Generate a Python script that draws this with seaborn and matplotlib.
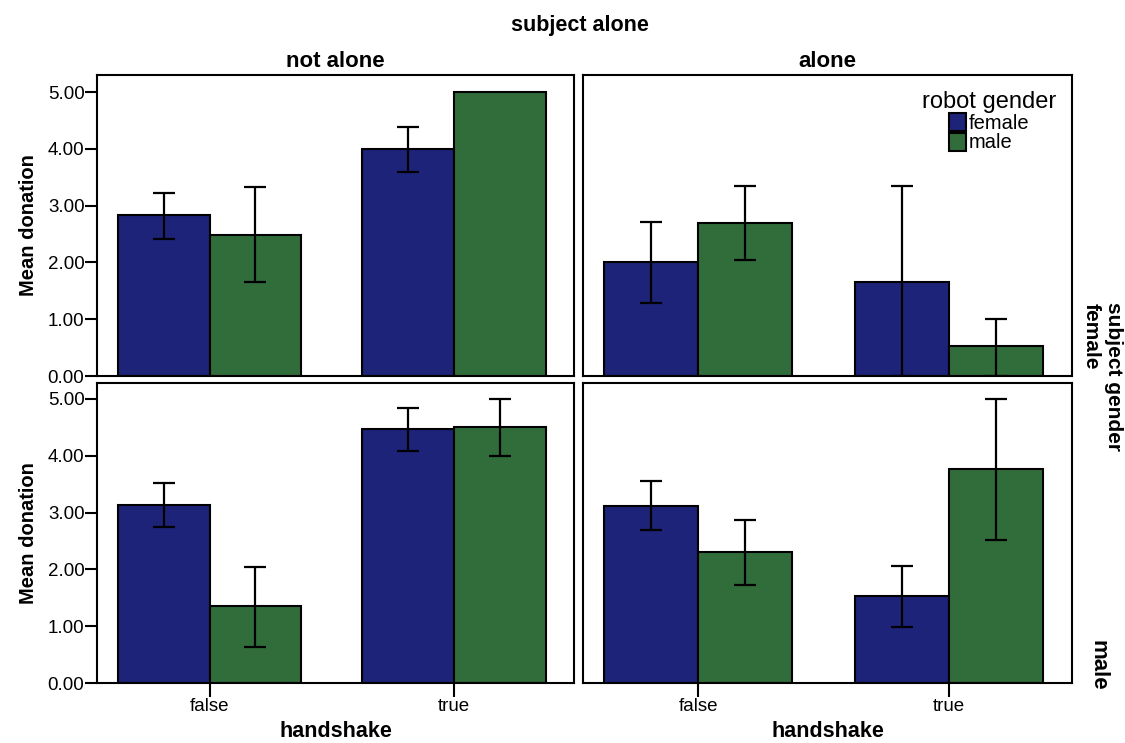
import matplotlib
matplotlib.use("Agg")
import matplotlib.pyplot as plt
import seaborn as sns
import pandas as pd
import numpy as np
from matplotlib.patches import Patch

sns.set_theme(style="white")
plt.rcParams['font.family'] = ['Liberation Sans', 'DejaVu Sans']
plt.rcParams['text.color'] = 'black'
plt.rcParams['axes.labelcolor'] = 'black'
plt.rcParams['xtick.color'] = 'black'
plt.rcParams['ytick.color'] = 'black'

# ---- data ----
subject_gender = ["female"] * 8 + ["male"] * 8
subject_alone = (["not alone"] * 4 + ["alone"] * 4) * 2
handshake = ["false", "false", "true", "true"] * 4
robot_gender = ["female", "male"] * 8
mean_donation = [2.83, 2.49, 3.99, 5.00,
                 2.00, 2.69, 1.66, 0.53,
                 3.13, 1.36, 4.47, 4.51,
                 3.12, 2.31, 1.53, 3.77]
err_low = [2.42, 1.66, 3.60, 5.00,
           1.29, 2.05, 0.00, 0.00,
           2.75, 0.63, 4.08, 4.00,
           2.69, 1.73, 0.99, 2.52]
err_high = [3.23, 3.32, 4.38, 5.00,
            2.72, 3.34, 3.35, 1.01,
            3.52, 2.04, 4.84, 5.00,
            3.56, 2.87, 2.06, 5.00]

rows = ["female", "male"]
cols = ["not alone", "alone"]
x_order = ["false", "true"]
hue_order = ["female", "male"]
palette = {"female": "#1d2378", "male": "#316c3b"}
y_ticks = [0, 1, 2, 3, 4, 5]
y_labels = ["0.00", "1.00", "2.00", "3.00", "4.00", "5.00"]

df = pd.DataFrame({
    "subject gender": subject_gender,
    "subject alone": subject_alone,
    "handshake": handshake,
    "robot gender": robot_gender,
    "mean": mean_donation,
    "lo": err_low,
    "hi": err_high,
})

W, H = 1125, 743
fig = plt.figure(figsize=(W / 100, H / 100), dpi=100)

col_px = [(97, 574), (583, 1072)]
row_px = [(75, 376), (383, 683)]
row_ylim = [5.30, 5.28]

axes = {}
for r, sg in enumerate(rows):
    for c, sa in enumerate(cols):
        x0, x1 = col_px[c]
        y0, y1 = row_px[r]
        ax = fig.add_axes([x0 / W, 1 - y1 / H, (x1 - x0) / W, (y1 - y0) / H])
        axes[(r, c)] = ax
        sub = df[(df["subject gender"] == sg) & (df["subject alone"] == sa)]
        sns.barplot(data=sub, x="handshake", y="mean", hue="robot gender",
                    order=x_order, hue_order=hue_order, palette=palette,
                    width=0.75, errorbar=None, edgecolor="black",
                    linewidth=1.5, saturation=1, legend=False, ax=ax)
        # error bars from bar geometry
        for hi_idx, hg in enumerate(hue_order):
            cont = ax.containers[hi_idx]
            for xi, xv in enumerate(x_order):
                rec = sub[(sub["handshake"] == xv) & (sub["robot gender"] == hg)].iloc[0]
                bar = cont[xi]
                cx = bar.get_x() + bar.get_width() / 2
                if rec["hi"] - rec["lo"] > 0.001:
                    m = rec["mean"]
                    ax.errorbar([cx], [m], yerr=[[m - rec["lo"]], [rec["hi"] - m]],
                                fmt="none", ecolor="black", elinewidth=1.6,
                                capsize=8, capthick=1.6, zorder=5)
        ax.set_xlim(-0.46, 1.49)
        ax.set_ylim(0, row_ylim[r])
        for s in ax.spines.values():
            s.set_visible(True)
            s.set_color("black")
            s.set_linewidth(1.5)
        ax.set_xlabel("")
        ax.set_ylabel("")
        if c == 0:
            ax.set_yticks(y_ticks)
            ax.set_yticklabels(y_labels, fontsize=13.5)
            ax.tick_params(axis="y", which="both", left=True, length=9, width=1.5,
                           color="black", direction="out", pad=0)
            ax.set_ylabel("Mean donation", fontsize=14.5, fontweight="bold")
            ax.yaxis.set_label_coords((38 - x0) / (x1 - x0), 0.5)
        else:
            ax.set_yticks([])
        if r == 1:
            ax.set_xticks([0, 1])
            ax.set_xticklabels(x_order, fontsize=13.5)
            ax.tick_params(axis="x", which="both", bottom=True, length=10, width=1.5,
                           color="black", direction="out", pad=1)
            ax.set_xlabel("handshake", fontsize=15.5, fontweight="bold")
            ax.xaxis.set_label_coords(0.5, -(721 - y1) / (y1 - y0))
        else:
            ax.set_xticks([])
        if r == 0:
            ax.set_title(sa, fontsize=16, fontweight="bold", pad=6)

# legend in top-right panel
handles = [Patch(facecolor=palette[h], edgecolor="black", linewidth=1.5, label=h)
           for h in hue_order]
leg = axes[(0, 1)].legend(handles=handles, title="robot gender", loc="upper right",
                          bbox_to_anchor=(0.997, 0.995), frameon=False,
                          fontsize=14.5, title_fontsize=17,
                          handlelength=0.8, handleheight=1.0,
                          handletextpad=0.15, labelspacing=0.0, borderpad=0.2)

# overall titles / labels
fig.text(580 / W, 1 - 25 / H, "subject alone", ha="center", va="center",
         fontsize=15.5, fontweight="bold")
fig.text(1091 / W, 1 - 336 / H, "female", ha="center", va="center",
         rotation=270, fontsize=15, fontweight="bold")
fig.text(1113 / W, 1 - 376 / H, "subject gender", ha="center", va="center",
         rotation=270, fontsize=15, fontweight="bold")
fig.text(1098 / W, 1 - 665 / H, "male", ha="center", va="center",
         rotation=270, fontsize=16, fontweight="bold")

fig.savefig("out.png", dpi=100)
